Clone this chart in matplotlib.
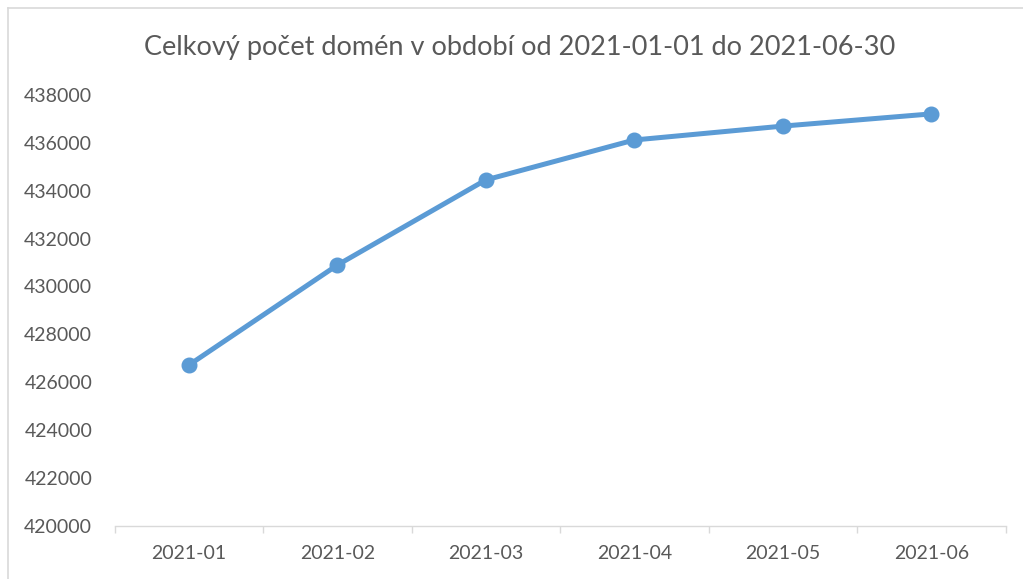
import matplotlib

matplotlib.use("Agg")
import matplotlib.pyplot as plt
from matplotlib.lines import Line2D
import numpy as np

months = ["2021-01", "2021-02", "2021-03", "2021-04", "2021-05", "2021-06"]
domains = [426710, 430890, 434450, 436120, 436700, 437210]
y_ticks = list(range(420000, 438001, 2000))
title = "Celkový počet domén v období od 2021-01-01 do 2021-06-30"

plt.rcParams["font.family"] = ["Lato", "DejaVu Sans"]

fig = plt.figure(figsize=(10.23, 5.79), dpi=100)
ax = fig.add_axes([114.5 / 1023, 1 - 525.7 / 579, (1005.5 - 114.5) / 1023, (525.7 - 95) / 579])

x = np.arange(len(months))
ax.plot(x, domains, color="#5B9BD5", linewidth=3.6, marker="o", markersize=10.5,
        solid_capstyle="round", zorder=3)

ax.set_xlim(-0.5, len(months) - 0.5)
ax.set_ylim(y_ticks[0], y_ticks[-1])
ax.set_yticks(y_ticks)
ax.set_yticklabels([str(v) for v in y_ticks])
ax.set_xticks(x)
ax.set_xticklabels(months)
ax.set_xticks(np.arange(-0.5, len(months)), minor=True)

ax.tick_params(axis="y", length=0, pad=16, labelsize=14, labelcolor="#595959")
ax.tick_params(axis="x", which="major", length=0, pad=14, labelsize=14, labelcolor="#595959")
ax.tick_params(axis="x", which="minor", length=5, width=1, color="#D9D9D9", direction="out")

for side in ["top", "right", "left"]:
    ax.spines[side].set_visible(False)
ax.spines["bottom"].set_color("#D9D9D9")
ax.spines["bottom"].set_linewidth(1)

fig.text(520 / 1023, 1 - 47 / 579, title, ha="center", va="center", fontsize=19.5, color="#595959")

# chart area border (top and left edges visible)
fig.add_artist(Line2D([8 / 1023, 1], [1 - 8 / 579, 1 - 8 / 579], color="#D9D9D9", linewidth=1.2))
fig.add_artist(Line2D([8 / 1023, 8 / 1023], [0, 1 - 8 / 579], color="#D9D9D9", linewidth=1.2))

fig.savefig("out.png", dpi=100)
